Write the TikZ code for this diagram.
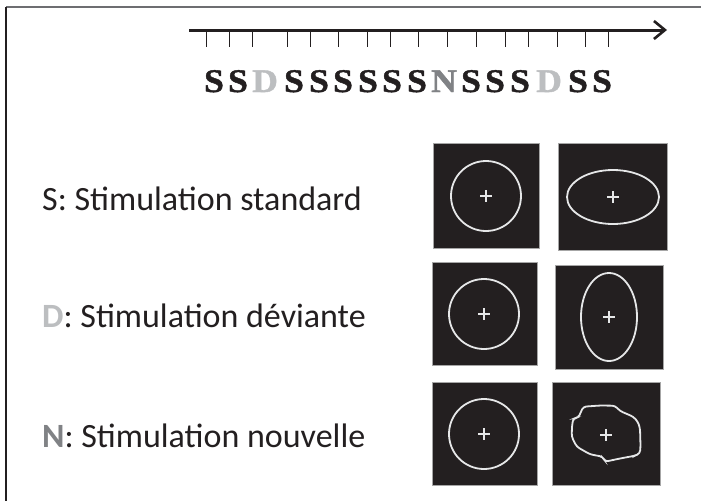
\documentclass[tikz,border=0pt]{standalone}
\usepackage{fontspec}
\setmainfont{Carlito}
\newfontfamily\seqfont{Liberation Serif}[BoldFeatures={FakeStretch=1.08,FakeBold=1.3}]
\usetikzlibrary{arrows.meta,calc}
\definecolor{ink}{HTML}{231F20}
\definecolor{devgray}{HTML}{BCBEC0}
\definecolor{novgray}{HTML}{808285}
\definecolor{linegray}{HTML}{E6E7E8}
\definecolor{framegray}{HTML}{6D6E71}
\tikzset{
  seqS/.style={anchor=base, inner sep=0pt, text=ink, font=\seqfont\bfseries\fontsize{33}{33}\selectfont},
  seqD/.style={seqS, text=devgray},
  seqN/.style={seqS, text=novgray},
  label/.style={anchor=base west, inner sep=0pt, text=ink, font=\fontsize{34}{36}\selectfont},
  stim/.style={fill=ink, draw=gray!70, line width=0.6pt, inner sep=0pt},
  shapeline/.style={draw=linegray, line width=1.8pt},
  plusline/.style={draw=linegray, line width=2.4pt},
  tickline/.style={draw=ink, line width=1pt},
  axis/.style={draw=ink, line width=3pt, -{Straight Barb[length=11pt,width=18pt,line width=2.6pt]}}
}
\newcommand{\plusmark}[1]{\draw[plusline] ($(#1)+(-6,0)$) -- ($(#1)+(6,0)$); \draw[plusline] ($(#1)+(0,-6)$) -- ($(#1)+(0,6)$);}
\begin{document}
\begin{tikzpicture}[x=1pt,y=-1pt]
\fill[white] (0,0) rectangle (701,501);
\useasboundingbox (0,0) rectangle (701,501);
% frame
\coordinate (f0) at (6,7);
\coordinate (f1) at (701,7);
\coordinate (f2) at (6,501);
\draw[framegray, line width=1.5pt] (f0) -- (f1);
\draw[ink, line width=1.5pt] (f0) -- (f2);
% axis
\coordinate (a0) at (189,30);
\coordinate (a1) at (667,30);
\draw[axis] (a0) -- (a1);
\foreach \x [count=\i] in {206,229,252,287,310,338,367,390,418,447,476,505,528,557,585,608} {
  \coordinate (t\i a) at (\x,31);
  \coordinate (t\i b) at (\x,47);
  \draw[tickline] (t\i a) -- (t\i b);
}
% sequence
\node[seqS] (s1) at (214,92) {S};
\node[seqS] (s2) at (238,92) {S};
\node[seqD] (s3) at (265,92) {D};
\node[seqS] (s4) at (294,92) {S};
\node[seqS] (s5) at (319,92) {S};
\node[seqS] (s6) at (343,92) {S};
\node[seqS] (s7) at (368,92) {S};
\node[seqS] (s8) at (392,92) {S};
\node[seqS] (s9) at (417,92) {S};
\node[seqN] (s10) at (444,92) {N};
\node[seqS] (s11) at (471,92) {S};
\node[seqS] (s12) at (495,92) {S};
\node[seqS] (s13) at (520,92) {S};
\node[seqD] (s14) at (549,92) {D};
\node[seqS] (s15) at (578,92) {S};
\node[seqS] (s16) at (602,92) {S};
% labels
\node[label] (lS) at (42,210) {S: Stimulation standard};
\node[label] (lD) at (42,327) {\textcolor{devgray}{\bfseries D}: Stimulation déviante};
\node[label] (lN) at (42,447) {\textcolor{novgray}{\bfseries N}: Stimulation nouvelle};
% row 1
\node[stim, minimum width=106pt, minimum height=105pt] (b11) at (486,195.5) {};
\node[stim, minimum width=109pt, minimum height=107pt] (b12) at (612.5,196.5) {};
\draw[shapeline] (486,196) circle (35);
\draw[shapeline] (613,197) ellipse (46 and 27);
\coordinate (p11) at (486,196);
\coordinate (p12) at (613,197);
\plusmark{p11}
\plusmark{p12}
% row 2
\node[stim, minimum width=105pt, minimum height=103pt] (b21) at (484.5,313.5) {};
\node[stim, minimum width=108pt, minimum height=104pt] (b22) at (609,317) {};
\draw[shapeline] (484,314) circle (35);
\draw[shapeline] (609,317) ellipse (28 and 44);
\coordinate (p21) at (484,314);
\coordinate (p22) at (609,317);
\plusmark{p21}
\plusmark{p22}
% row 3
\node[stim, minimum width=105pt, minimum height=103pt] (b31) at (484.5,433.5) {};
\node[stim, minimum width=108pt, minimum height=103pt] (b32) at (606,433.5) {};
\draw[shapeline] (484,434) circle (35);
\draw[shapeline, rounded corners=3pt] (583.3,406.7) -- (600,405.5) -- (615,405.7) -- (620,411) -- (633.3,416.7) -- (638,422) -- (640,428.3) -- (640.5,446) -- (640,453.3) -- (635,455.7) -- (620,458.5) -- (605,461.7) -- (602.7,456.7) -- (590,454.3) -- (576.7,446.7) -- (571.7,436.7) -- (572,426) -- (573.3,418.3) -- (578.3,417.7) -- cycle;
\coordinate (p31) at (484,434);
\coordinate (p32) at (606,435);
\plusmark{p31}
\plusmark{p32}
\end{tikzpicture}
\end{document}
